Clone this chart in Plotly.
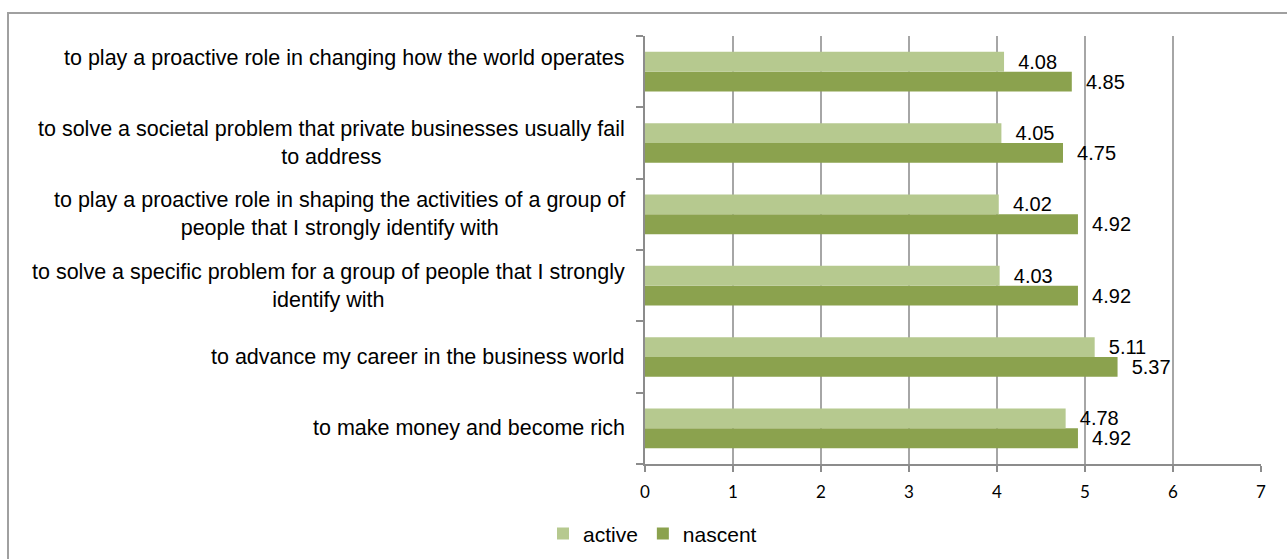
import plotly.graph_objects as go

# Categories listed bottom-to-top (Plotly draws the first category at the bottom)
categories = [
    "to make money and become rich",
    "to advance my career in the business world",
    "to solve a specific problem for a group of people that I strongly<br>identify with",
    "to play a proactive role in shaping the activities of a group of<br>people that I strongly identify with",
    "to solve a societal problem that private businesses usually fail<br>to address",
    "to play a proactive role in changing how the world operates<br>\u00a0",
]
active = [4.78, 5.11, 4.03, 4.02, 4.05, 4.08]
nascent = [4.92, 5.37, 4.92, 4.92, 4.75, 4.85]
x_ticks = [0, 1, 2, 3, 4, 5, 6, 7]

TEXT_FONT = "Liberation Sans, Arial, sans-serif"
ACTIVE_COLOR = "#B6C98F"
NASCENT_COLOR = "#8BA24E"
GRID_COLOR = "#A6A6A6"
LABEL_SIZE = 21.5

fig = go.Figure()

# Nascent first so it sits in the lower slot of each group
fig.add_trace(go.Bar(
    name="nascent",
    y=categories,
    x=nascent,
    orientation="h",
    marker=dict(color=NASCENT_COLOR, line=dict(width=0)),
    text=nascent,
    texttemplate="\u00a0\u00a0%{x:.2f}",
    textposition="outside",
    constraintext="none",
    textfont=dict(family=TEXT_FONT, size=20, color="#000000"),
    cliponaxis=False,
    legendrank=2,
))
fig.add_trace(go.Bar(
    name="active",
    y=categories,
    x=active,
    orientation="h",
    marker=dict(color=ACTIVE_COLOR, line=dict(width=0)),
    text=active,
    texttemplate="\u00a0\u00a0%{x:.2f}",
    textposition="outside",
    constraintext="none",
    textfont=dict(family=TEXT_FONT, size=20, color="#000000"),
    cliponaxis=False,
    legendrank=1,
))

# Category labels, each line centred, block right-aligned against the axis
for cat in categories:
    fig.add_annotation(
        x=0, xref="paper", y=cat, yref="y",
        text=cat, showarrow=False,
        xanchor="right", yanchor="middle", align="center",
        xshift=-18,
        font=dict(family=TEXT_FONT, size=LABEL_SIZE, color="#000000"),
    )

# Outer chart frame
fig.add_shape(
    type="rect", xref="paper", yref="paper",
    x0=(8 - 645) / 616, x1=(1300 - 645) / 616,
    y0=(464 - 600) / 428, y1=(464 - 13) / 428,
    line=dict(color="#A0A0A0", width=2), fillcolor="rgba(0,0,0,0)",
    layer="below",
)

fig.update_layout(
    width=1287, height=559,
    margin=dict(l=645, r=26, t=36, b=95, autoexpand=False),
    paper_bgcolor="#FFFFFF", plot_bgcolor="#FFFFFF",
    barmode="group", bargap=0.445, bargroupgap=0,
    showlegend=True,
    legend=dict(
        orientation="h", x=(543 - 645) / 616, xanchor="left",
        y=-0.163, yanchor="middle",
        font=dict(family=TEXT_FONT, size=21, color="#000000"),
        traceorder="normal",
    ),
    xaxis=dict(
        range=[0, 7], tickvals=x_ticks, ticktext=[str(v) for v in x_ticks],
        showgrid=True, gridcolor=GRID_COLOR, gridwidth=1.5,
        showline=True, linecolor="#8C8C8C", linewidth=1.5,
        ticks="outside", ticklen=6, tickcolor="#8C8C8C", tickwidth=1.5,
        ticklabelstandoff=6,
        tickfont=dict(family="Lato, sans-serif", size=17, color="#000000"),
        zeroline=False, fixedrange=True,
    ),
    yaxis=dict(
        categoryorder="array", categoryarray=categories,
        showticklabels=False,
        showline=True, linecolor="#8C8C8C", linewidth=1.5,
        ticks="outside", tickson="boundaries", ticklen=7,
        tickcolor="#8C8C8C", tickwidth=1.5,
        showgrid=False, zeroline=False, fixedrange=True,
    ),
)

fig.write_html("out.html")
